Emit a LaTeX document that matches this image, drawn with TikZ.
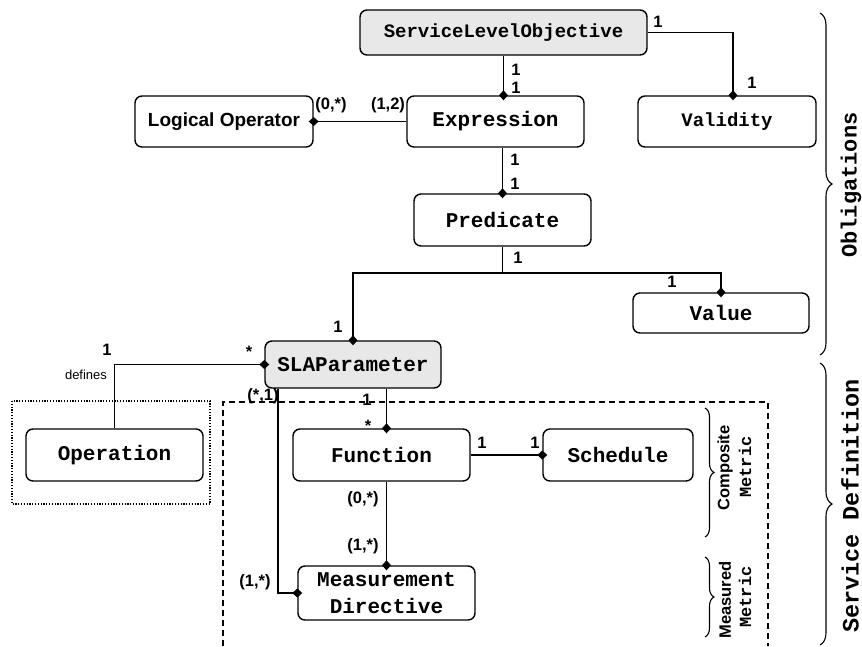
\documentclass[tikz,border=0pt]{standalone}
\usepackage{fontspec}
\setmainfont{Liberation Sans}
\newfontfamily\codefont{Liberation Mono}
\usetikzlibrary{arrows.meta,decorations.pathreplacing}

\tikzset{
  cls/.style={draw, rounded corners=7pt, line width=1.4pt, align=center, inner sep=0pt,
    font=\codefont\bfseries\fontsize{21}{27}\selectfont},
  clssmall/.style={cls, font=\codefont\bfseries\fontsize{19}{23}\selectfont},
  clssans/.style={cls, font=\bfseries\fontsize{19}{23}\selectfont},
  keycls/.style={fill=black!9},
  mult/.style={inner sep=0pt, font=\bfseries\fontsize{16.5}{19}\selectfont},
  role/.style={inner sep=0pt, font=\fontsize{13}{15}\selectfont},
  link/.style={line width=1.3pt},
  comp/.style={link, -{Diamond[length=10pt,width=9pt]}, shorten >=-5pt},
  grp/.style={decorate, decoration={brace, amplitude=#1}, line width=1.1pt},
  sidelbl/.style={rotate=90, inner sep=0pt, font=\codefont\bfseries\fontsize{#1}{#1}\selectfont},
  metriclbl/.style={rotate=90, inner sep=0pt, font=\bfseries\fontsize{16.5}{20}\selectfont},
}

\begin{document}
\begin{tikzpicture}[x=1pt,y=-1pt]
\path[use as bounding box] (0,0) rectangle (862,646);

% grouping frames
\draw[dash pattern=on 1.2pt off 1.6pt, line width=1.2pt] (12,401) rectangle (210,504);
\draw[dash pattern=on 6pt off 4pt, line width=1.3pt] (223,646) -- (223,402) -- (768,402) -- (768,646);

% classes
\node[clssmall, keycls, minimum width=287pt, minimum height=45pt] (slo) at (503.5,32.5) {ServiceLevelObjective};
\node[clssans, minimum width=178pt, minimum height=51pt] (logop) at (224,121.5) {Logical Operator};
\node[cls, minimum width=177pt, minimum height=51pt] (expr) at (495.5,121.5) {Expression};
\node[clssmall, minimum width=178pt, minimum height=51pt] (valid) at (727,121.5) {Validity};
\node[cls, minimum width=177pt, minimum height=52pt] (pred) at (502.5,220) {Predicate};
\node[cls, minimum width=176pt, minimum height=40pt] (value) at (721,313) {Value};
\node[cls, keycls, minimum width=176pt, minimum height=47pt] (slap) at (353,364.5) {SLAParameter};
\node[cls, minimum width=177pt, minimum height=52pt] (oper) at (114.5,455) {Operation};
\node[cls, minimum width=177pt, minimum height=52pt] (func) at (381.5,455) {Function};
\node[cls, minimum width=150pt, minimum height=52pt] (sched) at (618,455) {Schedule};
\node[cls, minimum width=177pt, minimum height=54pt] (mdir) at (386.5,593) {Measurement\\Directive};

% associations
\coordinate (split) at (502.5,273);
\draw[comp] (slo.south) -- (slo.south |- expr.north);
\draw[comp] (slo.east) -| ([xshift=6pt]valid.north);
\draw[comp] (expr.west) -- (logop.east);
\draw[comp] (pred.north |- expr.south) -- (pred.north);
\draw[link] (pred.south) -- (split);
\draw[comp] (split) -| (value.north);
\draw[comp] (split) -| (slap.north);
\draw[comp] (oper.north) |- (slap.west);
\draw[comp] (slap.south -| mdir.north) -- (func.north -| mdir.north);
\draw[comp] (func.south -| mdir.north) -- (mdir.north);
\draw[comp] ([xshift=-75pt]slap.south) |- (mdir.west);
\draw[comp] (func.east) -- (sched.west);

% multiplicities
\node[mult] (m-slo-a) at (516,70) {1};
\node[mult] (m-slo-b) at (516,88) {1};
\node[mult] (m-slo-c) at (658,22) {1};
\node[mult] (m-val) at (752,83) {1};
\node[mult] (m-lo-a) at (331,105) {(0,*)};
\node[mult] (m-lo-b) at (388,105) {(1,2)};
\node[mult] (m-ex-a) at (515,160) {1};
\node[mult] (m-ex-b) at (515,184) {1};
\node[mult] (m-pr) at (518,258) {1};
\node[mult] (m-value) at (672,282) {1};
\node[mult] (m-sla) at (338,327) {1};
\node[mult] (m-sla-star) at (249,352) {*};
\node[mult] (m-op) at (107,350) {1};
\node[role] (defines) at (86,375) {defines};
\node[mult] (m-sla-md) at (263,396) {(*,1)};
\node[mult] (m-sla-fn) at (367,400) {1};
\node[mult] (m-fn-star) at (368,426) {*};
\node[mult] (m-fn-a) at (363,499) {(0,*)};
\node[mult] (m-fn-b) at (363,546) {(1,*)};
\node[mult] (m-md) at (255,582) {(1,*)};
\node[mult] (m-sc-a) at (482,443) {1};
\node[mult] (m-sc-b) at (535,443) {1};

% groupings
\draw[grp=12pt] (820,13) -- (820,355);
\draw[grp=12pt] (820,363) -- (820,645);
\draw[grp=9pt] (705,408) -- (705,537);
\draw[grp=9pt] (705,557) -- (705,637);

\node[sidelbl=22] (oblig) at (851,185) {Obligations};
\node[sidelbl=23.5] (servdef) at (850,506) {Service Definition};
\node[metriclbl] (comp-a) at (725,468) {Composite};
\node[sidelbl=17] (comp-b) at (745,467) {Metric};
\node[metriclbl] (meas-a) at (725,600) {Measured};
\node[sidelbl=17] (meas-b) at (745,597) {Metric};
\end{tikzpicture}
\end{document}
